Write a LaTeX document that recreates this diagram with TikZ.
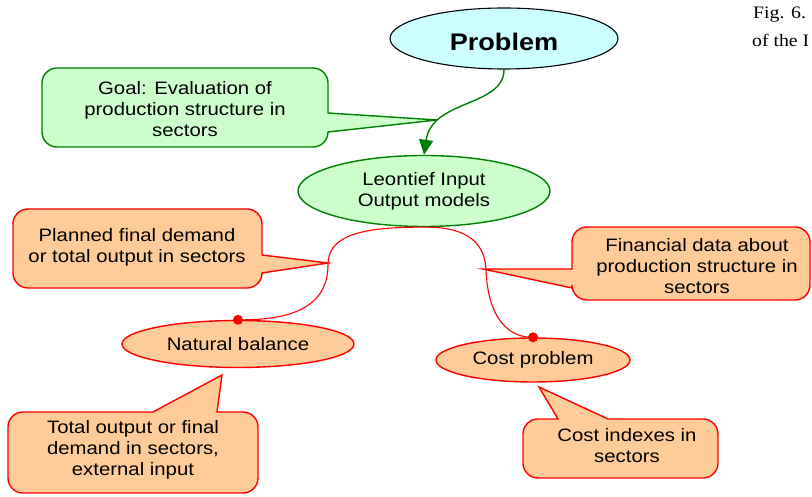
\documentclass[tikz,border=0pt]{standalone}
\usepackage{fontspec}
\setmainfont{Liberation Sans}[FakeStretch=1.13]
\newfontfamily\capfont{Liberation Serif}[FakeStretch=1.13]
\usetikzlibrary{shapes.geometric,arrows.meta}

\definecolor{cyanfill}{HTML}{CCFFFF}
\definecolor{gfill}{HTML}{CCFFCC}
\definecolor{gborder}{HTML}{008000}
\definecolor{ofill}{HTML}{FFCC99}
\definecolor{rborder}{HTML}{FF0000}

\tikzset{
  cyanell/.style={ellipse, draw=black, fill=cyanfill, line width=1.1pt, inner sep=0pt},
  greenell/.style={ellipse, draw=gborder, fill=gfill, line width=1.4pt, inner sep=0pt, align=center,
    font=\fontsize{18}{21}\selectfont},
  orangeell/.style={ellipse, draw=rborder, fill=ofill, line width=1.4pt, inner sep=0pt, align=center,
    font=\fontsize{18}{21}\selectfont},
  greencall/.style={draw=gborder, fill=gfill, line width=1.4pt, line join=miter},
  orangecall/.style={draw=rborder, fill=ofill, line width=1.4pt, line join=miter},
  txt/.style={align=center, inner sep=0pt, font=\fontsize{18}{21}\selectfont},
  captxt/.style={anchor=west, inner sep=0pt, font=\capfont\fontsize{17.5}{20}\selectfont},
  link/.style={draw=rborder, line width=1.1pt},
  dot/.style={fill=rborder},
  goalarrow/.style={draw=gborder, line width=1.4pt, -{Triangle[length=15pt,width=14pt]}},
}

\begin{document}
\begin{tikzpicture}[x=1pt,y=1pt]
\useasboundingbox (0,0) rectangle (812,497);
\fill[white] (0,0) rectangle (812,497);

% figure caption at the top right
\node[captxt] (cap1) at (753,482) {Fig. 6.};
\node[captxt] (cap2) at (752,457) {of the I};

% callout: goal
\path[greencall] (57,429) -- (313,429) arc[start angle=90,end angle=0,radius=15pt]
  -- (328,384) -- (437,377) -- (328,365)
  arc[start angle=0,end angle=-90,radius=15pt] -- (57,350)
  arc[start angle=270,end angle=180,radius=15pt] -- (42,414)
  arc[start angle=180,end angle=90,radius=15pt] -- cycle;
\node[txt] (goal) at (185,388) {Goal: Evaluation of\\production structure in\\sectors};

% main nodes
\node[cyanell, minimum width=228pt, minimum height=61pt] (problem) at (504,458.5) {};
\node[font=\bfseries\fontsize{24}{28}\selectfont, inner sep=0pt] (problemtxt) at (504,455) {Problem};
\node[greenell, minimum width=252pt, minimum height=71pt] (leontief) at (424,306)
  {Leontief Input\\Output models};
\node[orangeell, minimum width=232pt, minimum height=47pt] (natural) at (238,153)
  {Natural balance};
\node[orangeell, minimum width=194pt, minimum height=44pt] (cost) at (533,137)
  {Cost problem};

% connectors
\draw[goalarrow] (problem.south) .. controls (504,390) and (432,398) .. (leontief.north);
\draw[link] (leontief.south) .. controls (350,270.5) and (328,257) .. (328,232)
  .. controls (328,187) and (285,176.5) .. (natural.north);
\draw[link] (leontief.south) .. controls (470,270.5) and (485,252) .. (486,227)
  .. controls (488,177) and (510,159) .. (cost.north);
\fill[dot] (natural.north) circle (5pt);
\fill[dot] (cost.north) circle (5pt);

% callout: planned final demand
\path[orangecall] (28,288) -- (247,288) arc[start angle=90,end angle=0,radius=15pt]
  -- (262,242) -- (328,234) -- (262,224)
  arc[start angle=0,end angle=-90,radius=15pt] -- (28,209)
  arc[start angle=270,end angle=180,radius=15pt] -- (13,273)
  arc[start angle=180,end angle=90,radius=15pt] -- cycle;
\node[txt] (planned) at (137,250) {Planned final demand\\or total output in sectors};

% callout: financial data
\path[orangecall] (587,270) -- (795,270) arc[start angle=90,end angle=0,radius=15pt]
  -- (810,212) arc[start angle=0,end angle=-90,radius=15pt] -- (587,197)
  arc[start angle=270,end angle=180,radius=15pt] -- (572,209) -- (483,228) -- (572,228)
  -- (572,255) arc[start angle=180,end angle=90,radius=15pt] -- cycle;
\node[txt] (financial) at (697,231) {Financial data about\\production structure in\\sectors};

% callout: total output
\path[orangecall] (23,85) -- (153,85) -- (222,122) -- (217,85) -- (243,85)
  arc[start angle=90,end angle=0,radius=15pt] -- (258,19)
  arc[start angle=0,end angle=-90,radius=15pt] -- (23,4)
  arc[start angle=270,end angle=180,radius=15pt] -- (8,70)
  arc[start angle=180,end angle=90,radius=15pt] -- cycle;
\node[txt] (total) at (133,47) {Total output or final\\demand in sectors,\\external input};

% callout: cost indexes
\path[orangecall] (538,78) -- (558,78) -- (539,110) -- (608,78) -- (703,78)
  arc[start angle=90,end angle=0,radius=15pt] -- (718,34)
  arc[start angle=0,end angle=-90,radius=15pt] -- (538,19)
  arc[start angle=270,end angle=180,radius=15pt] -- (523,63)
  arc[start angle=180,end angle=90,radius=15pt] -- cycle;
\node[txt] (costidx) at (627,51) {Cost indexes in\\sectors};
\end{tikzpicture}
\end{document}
